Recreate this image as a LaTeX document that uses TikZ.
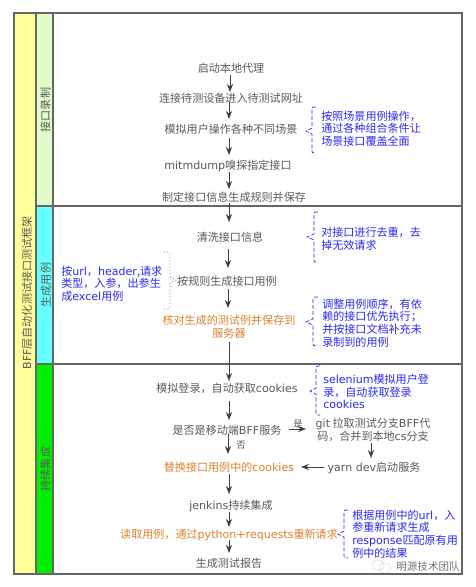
\documentclass[tikz,border=0pt]{standalone}
\usepackage{fontspec}
\setmainfont{Noto Sans CJK SC}
\newfontfamily\latinf{DejaVu Sans}
\definecolor{framegrey}{HTML}{666666}
\definecolor{txtgrey}{HTML}{5A5A5A}
\definecolor{bluetxt}{HTML}{2A2AF0}
\definecolor{orangetxt}{HTML}{D9822B}
\definecolor{yellowcol}{HTML}{FFFF99}
\definecolor{palegreen}{HTML}{E2FBC8}
\definecolor{cyancol}{HTML}{66FFFF}
\definecolor{greencol}{HTML}{00F000}
\usetikzlibrary{arrows.meta}
\tikzset{
  x=0.75pt,y=-0.75pt,
  stepnode/.style={font=\fontsize{8.3}{10}\selectfont,text=txtgrey,align=center,inner sep=1pt},
  hotnode/.style={stepnode,text=orangetxt},
  notenode/.style={font=\fontsize{8.3}{9.5}\selectfont,text=bluetxt,align=left,anchor=west,inner sep=0pt},
  flow/.style={draw=black!75,line width=0.5pt,-{Stealth[length=6pt,width=4.5pt]}},
  framebox/.style={draw=framegrey,line width=1.1pt},
  brc/.style={draw=bluetxt,line width=0.5pt,dash pattern=on 3pt off 1.5pt},
  brd/.style={draw=bluetxt,line width=0.5pt,dotted},
  lane/.style={font=\fontsize{8.3}{10}\selectfont,rotate=90,inner sep=0pt,text=txtgrey},
}
\newcommand{\bracepath}[6][brc]{% style, tip x, x, end x, top, mid
  \draw[#1] (#4,#5) .. controls (#3,#5) and (#3,#5) .. (#3,#5+4) -- (#3,#6-3) -- (#2,#6) -- (#3,#6+3) -- (#3,\bracebot-4) .. controls (#3,\bracebot) and (#3,\bracebot) .. (#4,\bracebot);}
\newcommand{\bracebot}{0}
\begin{document}
\begin{tikzpicture}
\useasboundingbox (0,0) rectangle (476,587);
\fill[white] (0,0) rectangle (476,587);
% lanes
\fill[yellowcol] (14,13) rectangle (36,574);
\fill[palegreen] (36,13) rectangle (53,206);
\fill[cyancol] (36,206) rectangle (53,364);
\fill[greencol] (36,364) rectangle (53,574);
\draw[framebox] (14,13) rectangle (462,574);
\draw[framebox] (36,13) -- (36,574);
\draw[framebox] (53,13) -- (53,574);
\draw[framebox] (36,206) -- (462,206);
\draw[framebox] (36,364) -- (462,364);
\node[lane] (lanetitle) at (27,293) {{\latinf BFF}层自动化测试接口测试框架};
\node[lane] (lanea) at (45.5,110) {接口录制};
\node[lane] (laneb) at (46,285) {生成用例};
\node[lane] (lanec) at (45.5,469) {持续集成};
% steps
\node[stepnode] (a1) at (231,68) {启动本地代理};
\node[stepnode] (a2) at (231,98) {连接待测设备进入待测试网址};
\node[stepnode] (a3) at (231,129) {模拟用户操作各种不同场景};
\node[stepnode] (a4) at (228,166) {{\latinf mitmdump}嗅探指定接口};
\node[stepnode] (a5) at (234,197) {制定接口信息生成规则并保存};
\node[stepnode] (b1) at (230,237) {清洗接口信息};
\node[stepnode] (b2) at (227,281) {按规则生成接口用例};
\node[hotnode] (b3) at (229,327) {核对生成的测试例并保存到\\服务器};
\node[stepnode] (c1) at (227,388) {模拟登录，自动获取{\latinf cookies}};
\node[stepnode] (c2) at (227,430) {是否是移动端{\latinf BFF}服务};
\node[stepnode] (c3) at (373,430) {{\latinf git} 拉取测试分支{\latinf BFF}代\\码，合并到本地{\latinf cs}分支};
\node[stepnode] (c4) at (374,468) {{\latinf yarn dev}启动服务};
\node[hotnode] (c5) at (229,467) {替换接口用例中的{\latinf cookies}};
\node[stepnode] (c6) at (231,506) {{\latinf jenkins}持续集成};
\node[hotnode] (c7) at (229,535) {读取用例，通过{\latinf python+requests}重新请求};
\node[stepnode] (c8) at (229,563) {生成测试报告};
\node[stepnode,font=\fontsize{7}{8}\selectfont] (yes) at (298,424) {是};
\node[stepnode,font=\fontsize{7}{8}\selectfont] (no) at (241,445) {否};
% flow
\draw[flow] (a1) ++(-1,7) -- ++(0,17);
\draw[flow] (229,102) -- (229,119);
\draw[flow] (229,138) -- (229,155);
\draw[flow] (229,172) -- (229,189);
\draw[flow] (229,203) -- (229,222);
\draw[flow] (228,249) -- (228,268);
\draw[flow] (228,289) -- (228,308);
\draw[flow] (229,342) -- (229,381);
\draw[flow] (229,401) -- (229,420);
\draw[flow] (228,434) -- (228,454);
\draw[flow] (289,429) -- (306,429);
\draw[flow] (371,443) -- (371,458);
\draw[flow] (324,467) -- (301,467);
\draw[flow] (229,474) -- (229,494);
\draw[flow] (229,512) -- (229,527);
\draw[flow] (229,540) -- (229,553);
% notes
\renewcommand{\bracebot}{153}\bracepath{306}{312}{316}{107}{131}
\node[notenode] (n1) at (321,128.5) {按照场景用例操作，\\通过各种组合条件让\\场景接口覆盖全面};
\renewcommand{\bracebot}{262}\bracepath{307}{314}{318}{212}{237}
\node[notenode] (n2) at (321,238.5) {对接口进行去重，去\\掉无效请求};
\renewcommand{\bracebot}{346}\bracepath{306}{313}{318}{297}{322}
\node[notenode] (n3) at (322,323) {调整用例顺序，有依\\赖的接口优先执行；\\并按接口文档补充未\\录制到的用例};
\renewcommand{\bracebot}{415}\bracepath{310}{316}{320}{366}{391}
\node[notenode] (n4) at (323,391.5) {{\latinf selenium}模拟用户登\\录，自动获取登录\\{\latinf cookies}};
\renewcommand{\bracebot}{558}\bracepath{338}{344}{348}{510}{534}
\node[notenode] (n5) at (352,534) {根据用例中的{\latinf url}，入\\参重新请求生成\\{\latinf response}匹配原有用\\例中的结果};
\renewcommand{\bracebot}{309}\bracepath[brd]{176}{170}{164}{252}{280}
\node[notenode] (n6) at (61,283.5) {按{\latinf url}，{\latinf header},请求\\类型，入参，出参生\\成{\latinf excel}用例};
% watermark
\draw[black!45,line width=0.4pt,densely dotted] (378,565) ellipse (6 and 5);
\draw[black!45,line width=0.4pt,densely dotted] (385,568) ellipse (6 and 5);
\node[font=\fontsize{7.9}{10}\selectfont,text=black!55,inner sep=0pt] (mark) at (428,567) {明源技术团队};
\end{tikzpicture}
\end{document}
